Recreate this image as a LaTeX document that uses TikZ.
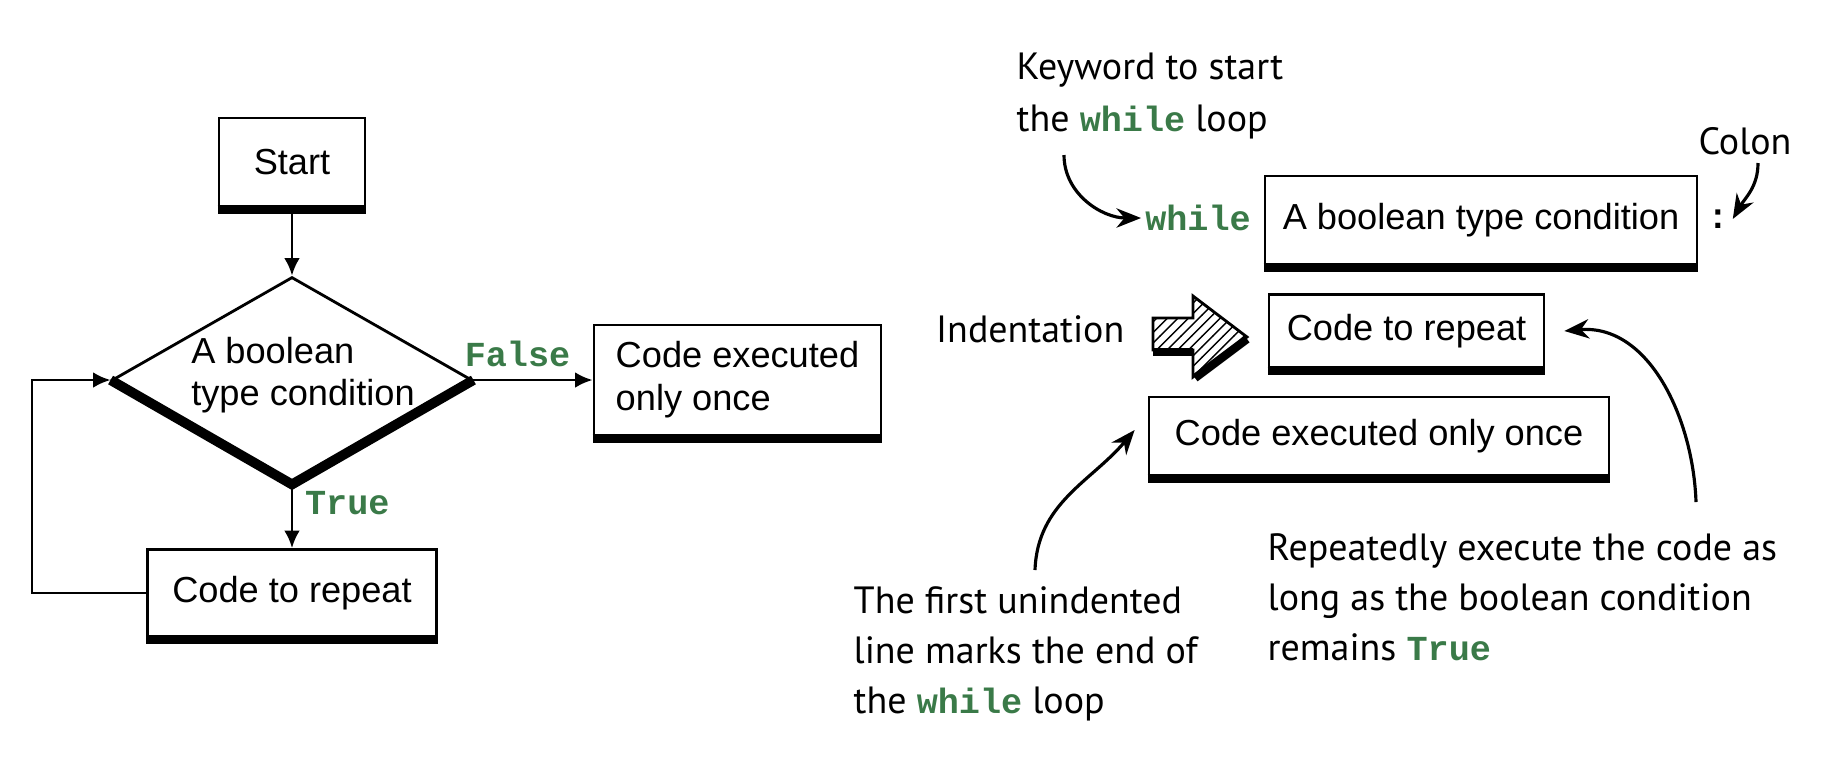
\documentclass[tikz,border=0pt]{standalone}
\usepackage{fontspec}
\setmainfont{Liberation Sans}
\newfontfamily\handfont{PT Sans}
\newfontfamily\codefont{Liberation Mono}
\usetikzlibrary{arrows.meta, calc, shapes.geometric, patterns}
\definecolor{codegreen}{RGB}{58,122,72}
\newcommand{\kw}[1]{{\codefont\bfseries\fontsize{10}{12}\selectfont\color{codegreen}#1}}

\tikzset{
  box/.style={draw, line width=0.8pt, font=\fontsize{10.3}{12.3}\selectfont, inner sep=0pt, align=left},
  condtext/.style={font=\fontsize{10.3}{11.8}\selectfont, inner sep=0pt, align=left},
  decision/.style={draw, diamond, line width=0.8pt, minimum width=3.6cm, minimum height=2.06cm, inner sep=0pt},
  flow/.style={line width=0.8pt, -{Latex[length=5pt,width=4.5pt]}},
  note/.style={font=\handfont\fontsize{10.8}{14.2}\selectfont, align=left, inner sep=0pt},
  curvy/.style={line width=0.9pt, -{Stealth[length=7pt,width=5.5pt]}},
  shadowline/.style={line width=2.4pt},
}

\begin{document}
\begin{tikzpicture}
  \useasboundingbox (0,0) rectangle (18.42,-7.58);

  % flowchart
  \node[box, minimum width=1.46cm, minimum height=0.88cm] (start) at (2.92,-1.62) {Start};
  \node[decision] (cond) at (2.92,-3.80) {};
  \node[condtext] (condlabel) at (3.03,-3.75) {A boolean\\type condition};
  \node[box, minimum width=2.87cm, minimum height=1.10cm] (once) at (7.375,-3.80) {Code executed\\only once};
  \node[box, minimum width=2.89cm, minimum height=0.87cm] (repeat) at (2.92,-5.93) {Code to repeat};
  \coordinate (loopx) at (0.32,0);

  \foreach \n in {start, once, repeat}
  \draw[shadowline] ([yshift=-0.6pt]\n.south west) -- ([yshift=-0.6pt]\n.south east);
  \draw[line width=2.8pt] (cond.west) -- (cond.south) -- (cond.east);

  \draw[flow] (start) -- (cond);
  \draw[flow] (cond.east) -- node[pos=0.37, above] {\kw{False}} (once.west);
  \draw[flow] (cond.south) -- node[pos=0.3, right] {\kw{True}} (repeat.north);
  \draw[flow] (repeat.west) -- (repeat.west -| loopx) |- (cond.west);

  % python syntax
  \node[inner sep=1pt] (kwwhile) at (11.98,-2.18) {\kw{while}};
  \node[box, minimum width=4.32cm, minimum height=0.88cm] (cond2) at (14.81,-2.20) {A boolean type condition};
  \node[inner sep=1pt, font=\codefont\bfseries\fontsize{10}{12}\selectfont] (colon) at (17.18,-2.19) {:};
  \node[box, minimum width=2.75cm, minimum height=0.73cm] (repeat2) at (14.065,-3.31) {Code to repeat};
  \node[box, minimum width=4.6cm, minimum height=0.78cm] (once2) at (13.79,-4.36) {Code executed only once};

  \foreach \n in {cond2, repeat2, once2}
  \draw[shadowline] ([yshift=-0.6pt]\n.south west) -- ([yshift=-0.6pt]\n.south east);

  % indentation arrow
  \draw[line width=0.8pt, pattern=north east lines] (11.53,-3.18) -- (11.93,-3.18) -- (11.93,-2.96)
    -- (12.47,-3.37) -- (11.93,-3.77) -- (11.93,-3.50) -- (11.53,-3.50) -- cycle;
  \draw[shadowline] (11.53,-3.52) -- (11.93,-3.52);
  \draw[shadowline] (11.95,-3.78) -- (12.47,-3.39);

  % notes
  \node[note, anchor=west, font=\handfont\fontsize{10.8}{15}\selectfont] (kwnote) at (10.16,-0.96) {Keyword to start\\the \kw{while} loop};
  \node[note] (colonnote) at (17.45,-1.41) {Colon};
  \node[note, anchor=east] (indnote) at (11.25,-3.29) {Indentation};
  \node[note, anchor=west] (endnote) at (8.53,-6.54) {The first unindented\\line marks the end of\\the \kw{while} loop};
  \node[note, anchor=west] (keepnote) at (12.67,-5.97) {Repeatedly execute the code as\\long as the boolean condition\\remains \kw{True}};

  \coordinate (kwtail) at (10.64,-1.55);
  \coordinate (colontail) at (17.58,-1.63);
  \coordinate (endtail) at (10.35,-5.70);
  \coordinate (keeptail) at (16.96,-5.02);

  \draw[curvy] (kwtail) to[out=-90, in=180] (kwwhile.west);
  \draw[curvy] (colontail) to[out=-90, in=60] (colon.east);
  \draw[curvy] (endtail) to[out=88, in=230] ([xshift=-0.13cm, yshift=0.06cm]once2.west);
  \draw[curvy] (keeptail) to[out=92, in=5] ([xshift=0.19cm]repeat2.east);
\end{tikzpicture}
\end{document}
